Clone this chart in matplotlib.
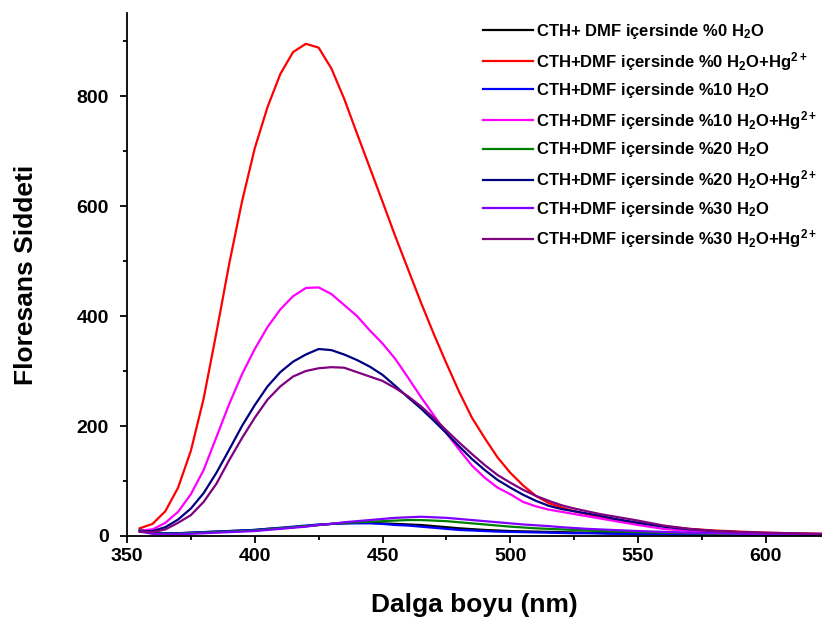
import matplotlib
matplotlib.use('Agg')
import matplotlib.pyplot as plt
from matplotlib.ticker import MultipleLocator

plt.rcParams['font.family'] = ['Liberation Sans', 'DejaVu Sans']
plt.rcParams['font.weight'] = 'bold'
plt.rcParams['mathtext.fontset'] = 'custom'
plt.rcParams['mathtext.rm'] = 'Liberation Sans:bold'
plt.rcParams['mathtext.it'] = 'Liberation Sans:bold'
plt.rcParams['mathtext.bf'] = 'Liberation Sans:bold'

# wavelength grid (nm)
wl = [355, 360, 365, 370, 375, 380, 385, 390, 395, 400, 405, 410, 415, 420, 425,
      430, 435, 440, 445, 450, 455, 460, 465, 470, 475, 480, 485, 490, 495, 500,
      505, 510, 515, 520, 525, 530, 535, 540, 545, 550, 560, 570, 580, 590, 600,
      610, 622]

# intensities
h2o_0 = [12, 6, 5, 5, 6, 7, 8, 9, 10, 11, 13, 14, 16, 18, 20,
         22, 23, 24, 24, 23, 22, 21, 20, 18, 16, 14, 12.5, 11, 10, 9,
         8.5, 8, 7.5, 7, 6.5, 6, 5.5, 5, 5, 4.5, 4, 3, 3, 2, 2,
         2, 1]
h2o_0_hg = [14, 22, 45, 88, 155, 250, 370, 495, 608, 705, 780, 840, 880, 895, 888,
            850, 795, 732, 670, 608, 545, 485, 425, 368, 314, 262, 215, 178, 143, 115,
            92, 73, 60, 52, 45, 40, 35, 31, 27, 24, 18, 13, 10, 8, 6,
            5, 4]
h2o_10 = [11, 5, 5, 5, 6, 7, 8, 9, 10, 11, 13, 15, 17, 19, 21,
          22, 23, 23, 23, 22, 20, 19, 17, 15, 13, 11, 10, 9, 8, 7.5,
          7, 6.5, 6, 5.5, 5, 5, 4.5, 4, 4, 3.5, 3, 2.5, 2, 2, 1.5,
          1.5, 1]
h2o_10_hg = [10, 12, 24, 44, 76, 120, 180, 240, 294, 340, 380, 412, 436, 451, 452,
             440, 420, 400, 374, 350, 322, 288, 253, 220, 187, 157, 128, 106, 88, 76,
             62, 54, 48, 44, 40, 36, 32, 28, 24, 20, 13, 9, 7, 5, 4,
             3, 2]
h2o_20 = [10, 5, 4, 4, 5, 6, 7, 8, 9, 10, 12, 14, 16, 18, 20,
          22, 24, 25, 26, 27, 28, 29, 29, 28, 27, 25, 23, 21, 19, 17,
          15.5, 14, 13, 12, 11, 10, 9, 8.5, 8, 7, 6, 5, 4, 3, 3,
          2, 2]
h2o_20_hg = [8, 9, 16, 30, 50, 78, 115, 157, 200, 238, 272, 298, 317, 330, 340,
             338, 330, 320, 308, 293, 273, 252, 232, 210, 187, 163, 140, 120, 102, 88,
             75, 64, 55, 49, 45, 41, 37, 32, 28, 24, 17, 12, 9, 7, 5,
             4, 3]
h2o_30 = [8, 4, 3, 3, 4, 5, 6, 7, 8, 9, 11, 13, 15, 17, 20,
          22, 25, 27, 29, 31, 33, 34, 35, 34, 33, 31, 29, 27, 25, 23,
          21, 19.5, 18, 16, 14.5, 13, 12, 11, 10, 9, 7.5, 6, 5, 4, 3.5,
          3, 2.5]
h2o_30_hg = [8, 7, 12, 24, 38, 62, 95, 138, 178, 215, 248, 272, 290, 300, 305,
             307, 306, 298, 290, 282, 269, 254, 236, 215, 192, 170, 149, 129, 111, 97,
             84, 73, 64, 56, 50, 45, 40, 36, 32, 28, 19, 13, 9, 7, 6,
             5, 4]

series = [h2o_0, h2o_0_hg, h2o_10, h2o_10_hg, h2o_20, h2o_20_hg, h2o_30, h2o_30_hg]
labels = [
    r'CTH+ DMF içersinde %0 H$_2$O',
    r'CTH+DMF içersinde %0 H$_2$O+Hg$^{2+}$',
    r'CTH+DMF içersinde %10 H$_2$O',
    r'CTH+DMF içersinde %10 H$_2$O+Hg$^{2+}$',
    r'CTH+DMF içersinde %20 H$_2$O',
    r'CTH+DMF içersinde %20 H$_2$O+Hg$^{2+}$',
    r'CTH+DMF içersinde %30 H$_2$O',
    r'CTH+DMF içersinde %30 H$_2$O+Hg$^{2+}$',
]
colors = ['#000000', '#ff0000', '#0000ff', '#ff00ff', '#008000', '#000080', '#8000ff', '#800080']

fig = plt.figure(figsize=(8.22, 6.24), dpi=100)
ax = fig.add_axes([127 / 822, 88 / 624, 1 - 127 / 822, (536 - 13) / 624])

for y, lab, c in zip(series, labels, colors):
    ax.plot(wl, y, color=c, lw=1.6, label=lab)

ax.set_xlim(350, 622)
ax.set_ylim(0, 951)
ax.xaxis.set_major_locator(MultipleLocator(50))
ax.xaxis.set_minor_locator(MultipleLocator(25))
ax.yaxis.set_major_locator(MultipleLocator(200))
ax.yaxis.set_minor_locator(MultipleLocator(100))
ax.tick_params(which='major', direction='out', length=5, width=1.3, labelsize=14)
ax.tick_params(which='minor', direction='out', length=3, width=1.3)
ax.tick_params(axis='y', which='major', pad=8)
for s in ['top', 'right']:
    ax.spines[s].set_visible(False)
for s in ['left', 'bottom']:
    ax.spines[s].set_linewidth(1.3)

ax.set_xlabel('Dalga boyu (nm)', fontsize=19, fontweight='bold', labelpad=20)
ax.set_ylabel('Floresans Siddeti', fontsize=19, fontweight='bold', labelpad=28)

ax.legend(loc='upper left', bbox_to_anchor=(483 / 822, 1 - 22 / 624),
          bbox_transform=fig.transFigure, frameon=False, fontsize=12,
          handlelength=3.0, handletextpad=0.15, labelspacing=0.52,
          borderpad=0, borderaxespad=0)

fig.savefig('out.png', dpi=100)
